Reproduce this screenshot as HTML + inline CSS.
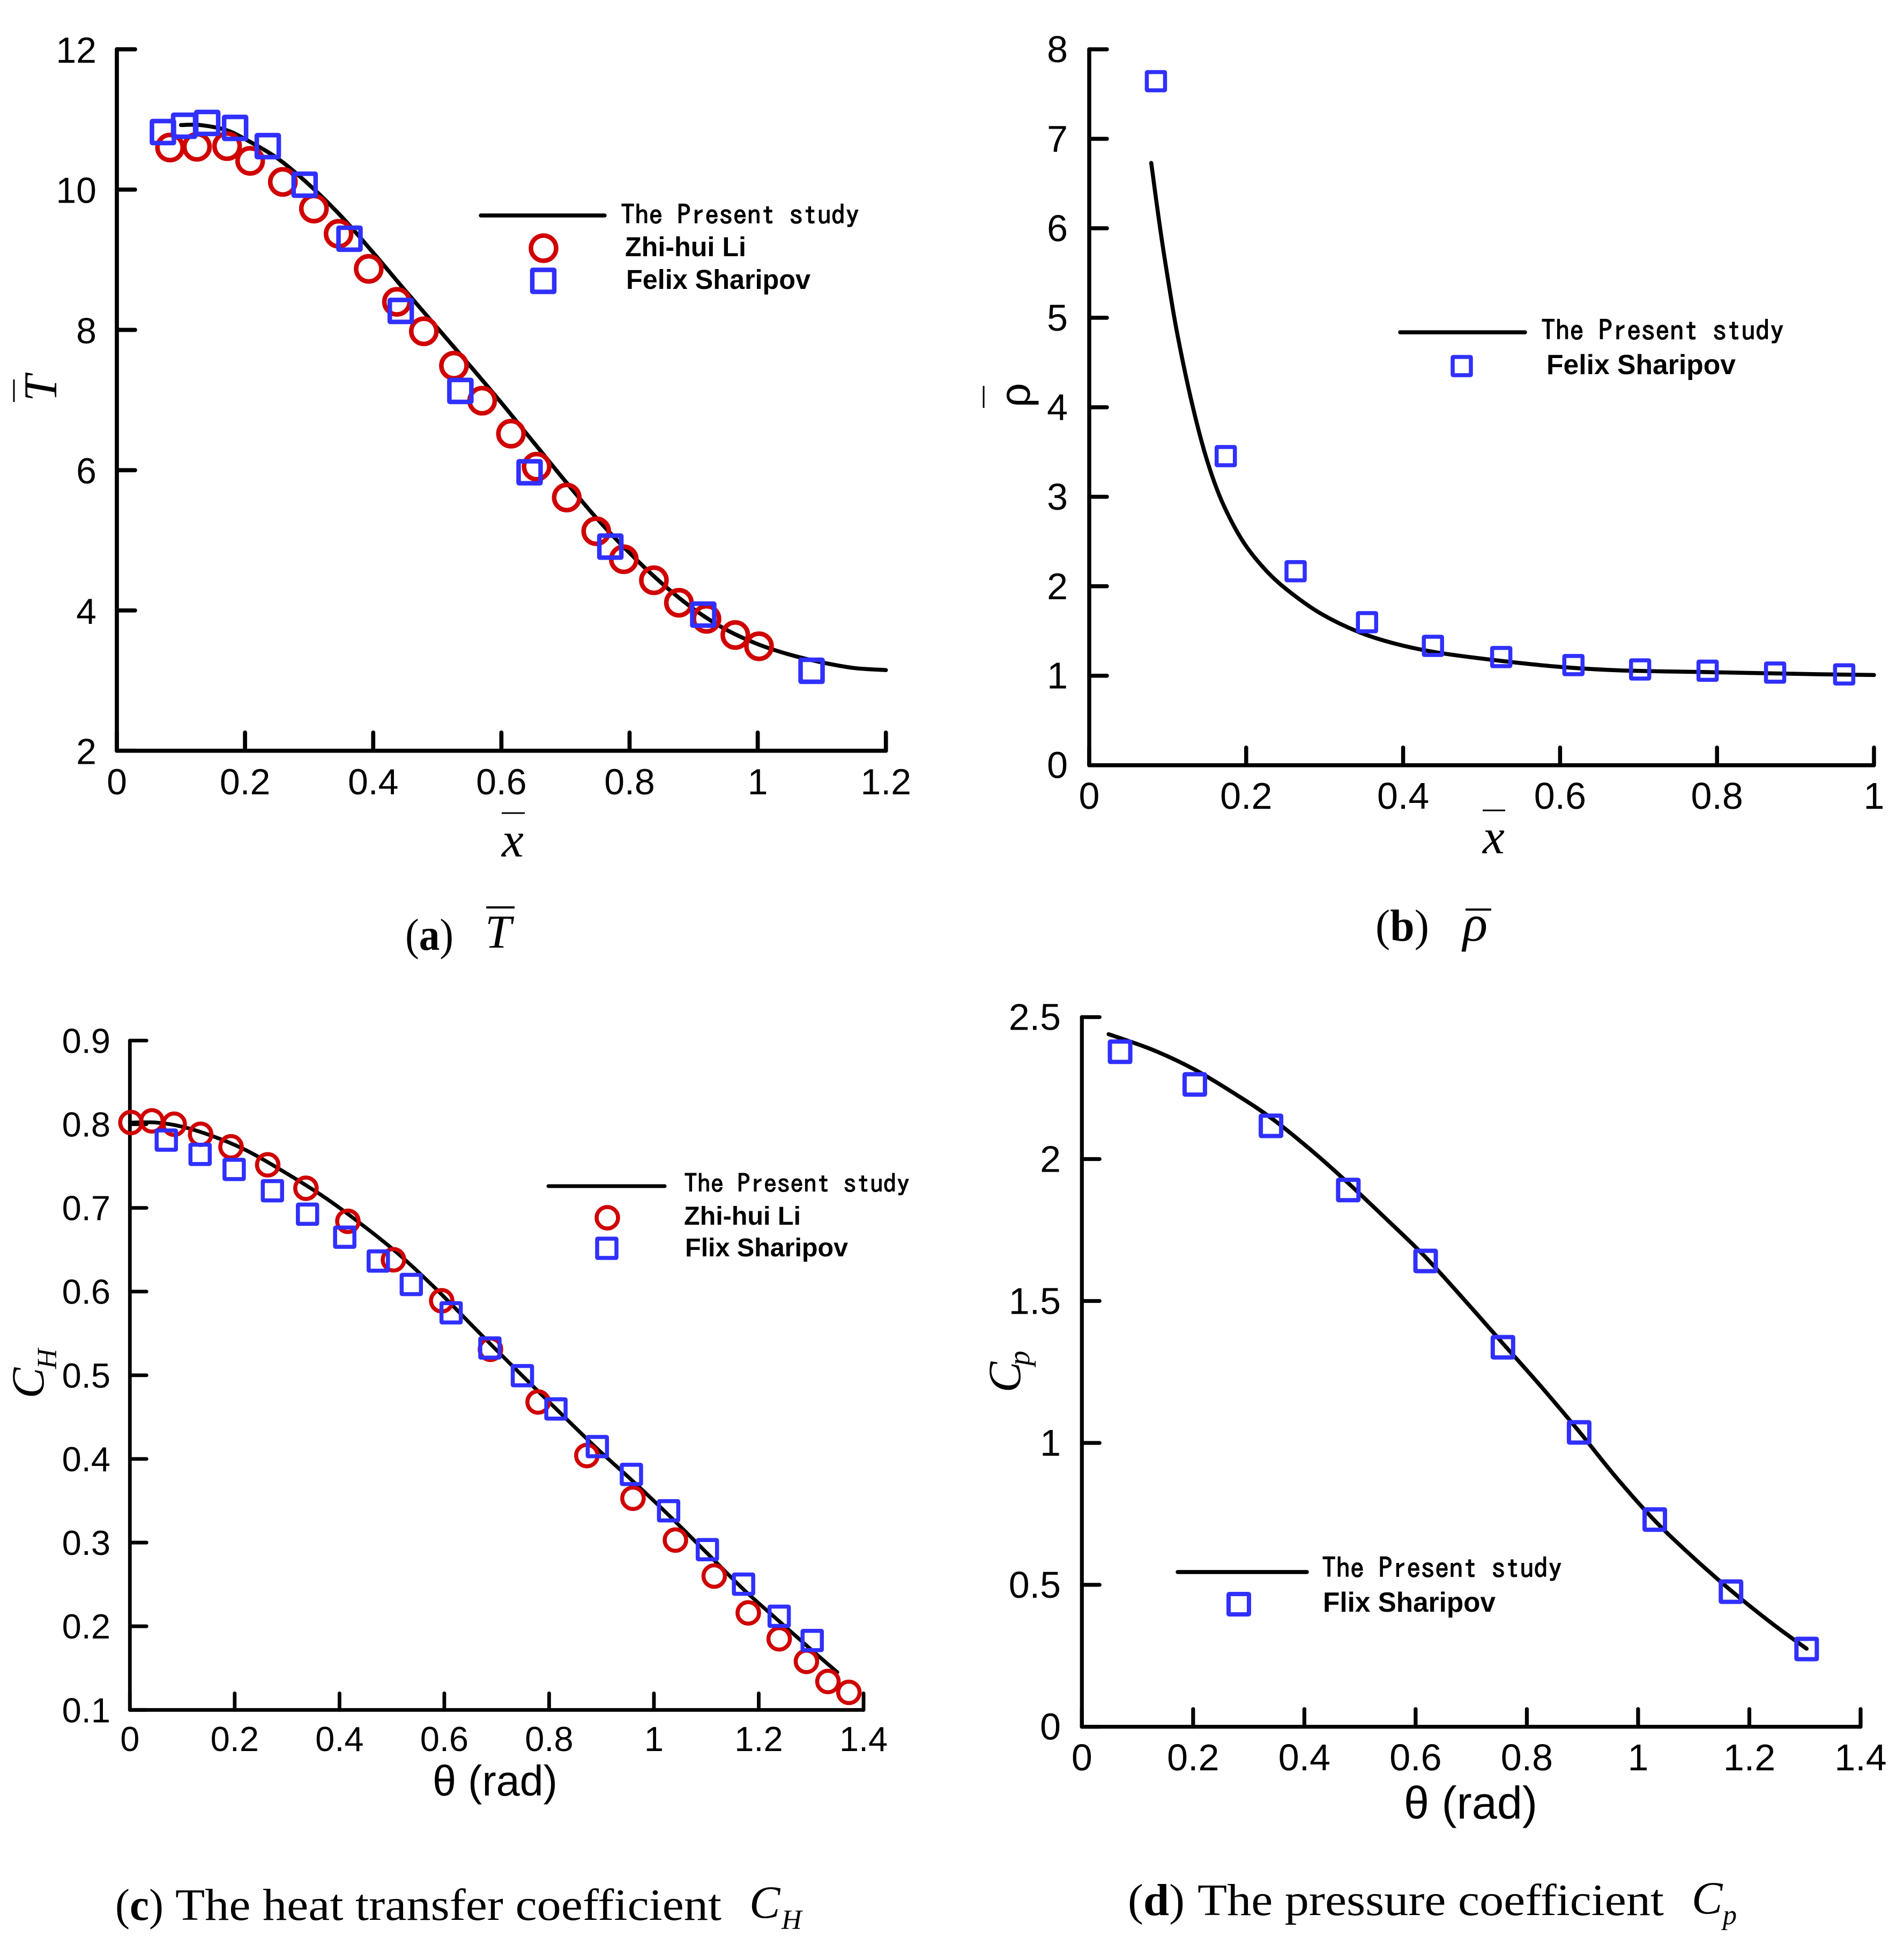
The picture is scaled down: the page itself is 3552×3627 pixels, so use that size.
<!DOCTYPE html>
<html lang="en">
<head>
<meta charset="utf-8">
<title>Flow property comparison charts</title>
<style>
html,body{margin:0;padding:0;background:#fff}
svg{display:block}
.tick{font-family:"Liberation Sans",sans-serif;fill:#000}
.mono{font-family:"IPAGothic","Liberation Mono",monospace;fill:#000;stroke:#000;stroke-width:1.2}
.bold{font-family:"Liberation Sans",sans-serif;font-weight:bold;fill:#000}
.sans{font-family:"Liberation Sans",sans-serif;fill:#000}
.ser{font-family:"Liberation Serif",serif;fill:#000}
.ital{font-family:"Liberation Serif",serif;font-style:italic;fill:#000}
</style>
</head>
<body>
<svg id="chart" xmlns="http://www.w3.org/2000/svg" width="3552" height="3627" viewBox="0 0 3552 3627">
<rect width="3552" height="3627" fill="#fff"/>

<g id="panel-a">
  <g>
    <line x1="936" y1="1517" x2="979" y2="1517" stroke="#000" stroke-width="3"/>
    <text class="ital" x="936" y="1598" font-size="92">x</text>
  </g>
  <g>
    <line x1="26" y1="708" x2="26" y2="750" stroke="#000" stroke-width="3"/>
    <text class="ital" transform="translate(105,749) rotate(-90)" font-size="88">T</text>
  </g>
  <g>
    <line x1="897" y1="402" x2="1128" y2="402" stroke="#000" stroke-width="7.5" stroke-linecap="round"/>
    <text class="mono" x="1158" y="418.5" font-size="50" textLength="445" lengthAdjust="spacingAndGlyphs">The Present study</text>
    <circle cx="1014" cy="463" r="23.5" fill="none" stroke="#d00000" stroke-width="8.5"/>
    <text class="bold" x="1166" y="478" font-size="51" textLength="226" lengthAdjust="spacingAndGlyphs">Zhi-hui Li</text>
    <rect x="993" y="503.5" width="41" height="41" rx="1" fill="none" stroke="#3030ff" stroke-width="8.5" stroke-linejoin="round"/>
    <text class="bold" x="1168" y="539" font-size="51" textLength="344" lengthAdjust="spacingAndGlyphs">Felix Sharipov</text>
  </g>
  <g>
    <text class="ser" x="756" y="1772" font-size="84" textLength="90" lengthAdjust="spacingAndGlyphs">(<tspan font-weight="bold">a</tspan>)</text>
    <line x1="907" y1="1693" x2="960" y2="1693" stroke="#000" stroke-width="4"/>
    <text class="ital" x="905" y="1768" font-size="88">T</text>
  </g>
</g>

<g id="panel-b">
  <g>
    <line x1="2766" y1="1512" x2="2808" y2="1512" stroke="#000" stroke-width="3"/>
    <text class="ital" x="2766" y="1592" font-size="92">x</text>
  </g>
  <g>
    <line x1="1835" y1="720" x2="1835" y2="761" stroke="#000" stroke-width="3"/>
    <text class="sans" transform="translate(1921,760) rotate(-90)" font-size="80">ρ</text>
  </g>
  <g>
    <line x1="2612" y1="620" x2="2845" y2="620" stroke="#000" stroke-width="7.5" stroke-linecap="round"/>
    <text class="mono" x="2875" y="635" font-size="52" textLength="453" lengthAdjust="spacingAndGlyphs">The Present study</text>
    <rect x="2710" y="666" width="34" height="34" rx="1" fill="none" stroke="#3030ff" stroke-width="7.5" stroke-linejoin="round"/>
    <text class="bold" x="2885" y="698" font-size="52" textLength="353" lengthAdjust="spacingAndGlyphs">Felix Sharipov</text>
  </g>
  <g>
    <text class="ser" x="2566" y="1755" font-size="84" textLength="100" lengthAdjust="spacingAndGlyphs">(<tspan font-weight="bold">b</tspan>)</text>
    <line x1="2734" y1="1697" x2="2782" y2="1697" stroke="#000" stroke-width="4"/>
    <text class="ital" x="2729" y="1755" font-size="96">ρ</text>
  </g>
</g>

<g id="panel-c">
  <text class="sans" x="807" y="3350" font-size="80" textLength="233" lengthAdjust="spacingAndGlyphs">θ (rad)</text>
  <g>
    <text class="ital" transform="translate(81,2609) rotate(-90)" font-size="86">C</text>
    <text class="ital" transform="translate(105,2554) rotate(-90)" font-size="52">H</text>
  </g>
  <g>
    <line x1="1023" y1="2213" x2="1240" y2="2213" stroke="#000" stroke-width="7" stroke-linecap="round"/>
    <text class="mono" x="1276" y="2225" font-size="48" textLength="421" lengthAdjust="spacingAndGlyphs">The Present study</text>
    <circle cx="1133" cy="2272" r="20" fill="none" stroke="#d00000" stroke-width="7.5"/>
    <text class="bold" x="1276" y="2285" font-size="48" textLength="218" lengthAdjust="spacingAndGlyphs">Zhi-hui Li</text>
    <rect x="1114" y="2311" width="36" height="36" rx="1" fill="none" stroke="#3030ff" stroke-width="7.5" stroke-linejoin="round"/>
    <text class="bold" x="1278" y="2344" font-size="48" textLength="304" lengthAdjust="spacingAndGlyphs">Flix Sharipov</text>
  </g>
  <g>
    <text class="ser" x="215" y="3582" font-size="84" textLength="90" lengthAdjust="spacingAndGlyphs">(<tspan font-weight="bold">c</tspan>)</text>
    <text class="ser" x="327" y="3582" font-size="84" textLength="1019" lengthAdjust="spacingAndGlyphs">The heat transfer coefficient</text>
    <text class="ital" x="1398" y="3578" font-size="86">C</text>
    <text class="ital" x="1458" y="3599" font-size="52">H</text>
  </g>
</g>

<g id="panel-d">
  <text class="sans" x="2619" y="3393" font-size="85" textLength="249" lengthAdjust="spacingAndGlyphs">θ (rad)</text>
  <g>
    <text class="ital" transform="translate(1903,2598) rotate(-90)" font-size="86">C</text>
    <text class="ital" transform="translate(1920,2548) rotate(-90)" font-size="56">p</text>
  </g>
  <g>
    <line x1="2197" y1="2933" x2="2438" y2="2933" stroke="#000" stroke-width="7.5" stroke-linecap="round"/>
    <text class="mono" x="2466" y="2944" font-size="52" textLength="448" lengthAdjust="spacingAndGlyphs">The Present study</text>
    <rect x="2300" y="2979" width="38" height="38" rx="1" fill="none" stroke="#3030ff" stroke-width="8" stroke-linejoin="round" transform="translate(-8,-5)"/>
    <text class="bold" x="2468" y="3007" font-size="52" textLength="322" lengthAdjust="spacingAndGlyphs">Flix Sharipov</text>
  </g>
  <g>
    <text class="ser" x="2104" y="3573" font-size="84" textLength="106" lengthAdjust="spacingAndGlyphs">(<tspan font-weight="bold">d</tspan>)</text>
    <text class="ser" x="2234" y="3573" font-size="84" textLength="870" lengthAdjust="spacingAndGlyphs">The pressure coefficient</text>
    <text class="ital" x="3156" y="3570" font-size="86">C</text>
    <text class="ital" x="3214" y="3590" font-size="52">p</text>
  </g>
</g>
</svg>

<script>
// Panel (a): T-bar
const aTickX = [0, 0.2, 0.4, 0.6, 0.8, 1, 1.2];
const aTickXLabels = ["0", "0.2", "0.4", "0.6", "0.8", "1", "1.2"];
const aTickY = [2, 4, 6, 8, 10, 12];
const aTickYLabels = ["2", "4", "6", "8", "10", "12"];
const aLineX = [0.1, 0.13, 0.17, 0.2, 0.25, 0.3, 0.35, 0.4, 0.45, 0.5, 0.55, 0.6, 0.65, 0.7, 0.75, 0.8, 0.85, 0.9, 0.95, 1.0, 1.05, 1.1, 1.15, 1.2];
const aLineY = [10.92, 10.92, 10.85, 10.72, 10.45, 10.07, 9.62, 9.1, 8.56, 8.03, 7.5, 6.96, 6.4, 5.84, 5.3, 4.82, 4.39, 4.02, 3.73, 3.52, 3.37, 3.26, 3.18, 3.15];
const aCircleX = [0.083, 0.125, 0.172, 0.208, 0.259, 0.3075, 0.346, 0.393, 0.437, 0.479, 0.526, 0.57, 0.615, 0.655, 0.702, 0.748, 0.791, 0.838, 0.877, 0.92, 0.965, 1.002];
const aCircleY = [10.6, 10.61, 10.62, 10.41, 10.11, 9.73, 9.37, 8.87, 8.4, 7.98, 7.49, 6.99, 6.52, 6.05, 5.61, 5.13, 4.73, 4.43, 4.11, 3.88, 3.65, 3.49];
const aSquareX = [0.0719, 0.105, 0.141, 0.1845, 0.2355, 0.293, 0.363, 0.443, 0.536, 0.644, 0.77, 0.915, 1.084];
const aSquareY = [10.82, 10.91, 10.95, 10.88, 10.62, 10.07, 9.3, 8.27, 7.13, 5.97, 4.91, 3.94, 3.14];

// Panel (b): rho-bar
const bTickX = [0, 0.2, 0.4, 0.6, 0.8, 1];
const bTickXLabels = ["0", "0.2", "0.4", "0.6", "0.8", "1"];
const bTickY = [0, 1, 2, 3, 4, 5, 6, 7, 8];
const bTickYLabels = ["0", "1", "2", "3", "4", "5", "6", "7", "8"];
const bLineX = [0.079, 0.09, 0.1, 0.112, 0.13, 0.149, 0.169, 0.196, 0.227, 0.258, 0.296, 0.343, 0.389, 0.443, 0.521, 0.598, 0.676, 0.792, 0.908, 1];
const bLineY = [6.73, 6.02, 5.45, 4.83, 4.08, 3.44, 2.95, 2.5, 2.16, 1.92, 1.69, 1.49, 1.36, 1.26, 1.17, 1.1, 1.06, 1.04, 1.02, 1.008];
const bSquareX = [0.085, 0.174, 0.263, 0.354, 0.438, 0.525, 0.617, 0.702, 0.788, 0.874, 0.962];
const bSquareY = [7.644, 3.454, 2.168, 1.598, 1.334, 1.209, 1.119, 1.07, 1.056, 1.035, 1.015];

// Panel (c): heat transfer coefficient
const cTickX = [0, 0.2, 0.4, 0.6, 0.8, 1, 1.2, 1.4];
const cTickXLabels = ["0", "0.2", "0.4", "0.6", "0.8", "1", "1.2", "1.4"];
const cTickY = [0.1, 0.2, 0.3, 0.4, 0.5, 0.6, 0.7, 0.8, 0.9];
const cTickYLabels = ["0.1", "0.2", "0.3", "0.4", "0.5", "0.6", "0.7", "0.8", "0.9"];
const cLineX = [0, 0.05, 0.1, 0.157, 0.215, 0.273, 0.366, 0.447, 0.516, 0.586, 0.679, 0.748, 0.813, 0.892, 0.957, 1.028, 1.102, 1.171, 1.239, 1.302, 1.35];
const cLineY = [0.802, 0.802, 0.797, 0.786, 0.771, 0.751, 0.715, 0.678, 0.643, 0.602, 0.543, 0.5, 0.46, 0.412, 0.375, 0.333, 0.287, 0.244, 0.206, 0.171, 0.145];
const cCircleX = [0.002, 0.042, 0.0845, 0.135, 0.193, 0.263, 0.336, 0.416, 0.503, 0.595, 0.688, 0.779, 0.872, 0.96, 1.041, 1.115, 1.18, 1.239, 1.291, 1.332, 1.372];
const cCircleY = [0.802, 0.804, 0.8, 0.788, 0.773, 0.7515, 0.7235, 0.684, 0.638, 0.589, 0.531, 0.468, 0.404, 0.353, 0.303, 0.26, 0.216, 0.185, 0.158, 0.134, 0.121];
const cSquareX = [0.0695, 0.134, 0.199, 0.272, 0.339, 0.41, 0.474, 0.537, 0.613, 0.687, 0.749, 0.813, 0.892, 0.957, 1.028, 1.102, 1.171, 1.239, 1.302];
const cSquareY = [0.781, 0.764, 0.746, 0.7205, 0.6925, 0.665, 0.6365, 0.6085, 0.5746, 0.5326, 0.4995, 0.4597, 0.4147, 0.3815, 0.338, 0.2916, 0.2503, 0.212, 0.183];

// Panel (d): pressure coefficient
const dTickX = [0, 0.2, 0.4, 0.6, 0.8, 1, 1.2, 1.4];
const dTickXLabels = ["0", "0.2", "0.4", "0.6", "0.8", "1", "1.2", "1.4"];
const dTickY = [0, 0.5, 1, 1.5, 2, 2.5];
const dTickYLabels = ["0", "0.5", "1", "1.5", "2", "2.5"];
const dLineX = [0.048, 0.127, 0.203, 0.279, 0.34, 0.41, 0.479, 0.552, 0.618, 0.694, 0.757, 0.825, 0.894, 0.96, 1.03, 1.1, 1.167, 1.24, 1.303];
const dLineY = [2.44, 2.385, 2.315, 2.225, 2.145, 2.035, 1.915, 1.78, 1.654, 1.49, 1.35, 1.2, 1.04, 0.88, 0.726, 0.595, 0.48, 0.365, 0.275];
const dSquareX = [0.0687, 0.203, 0.34, 0.479, 0.618, 0.757, 0.894, 1.03, 1.167, 1.303];
const dSquareY = [2.378, 2.263, 2.117, 1.891, 1.641, 1.337, 1.037, 0.73, 0.476, 0.274];

const NS = "http://www.w3.org/2000/svg";
function make(parent, tag, attrs) {
  const node = document.createElementNS(NS, tag);
  for (const k in attrs) node.setAttribute(k, attrs[k]);
  parent.appendChild(node);
  return node;
}
function axisScale(d0, d1, r0, r1) {
  return function (v) { return r0 + (v - d0) / (d1 - d0) * (r1 - r0); };
}
function smoothPath(xs, ys, sx, sy) {
  const p = xs.map(function (x, i) { return [sx(x), sy(ys[i])]; });
  let d = "M" + p[0][0].toFixed(1) + " " + p[0][1].toFixed(1);
  for (let i = 0; i < p.length - 1; i++) {
    const a = p[Math.max(i - 1, 0)], b = p[i], c = p[i + 1], e = p[Math.min(i + 2, p.length - 1)];
    const c1x = b[0] + (c[0] - a[0]) / 6, c1y = b[1] + (c[1] - a[1]) / 6;
    const c2x = c[0] - (e[0] - b[0]) / 6, c2y = c[1] - (e[1] - b[1]) / 6;
    d += "C" + c1x.toFixed(1) + " " + c1y.toFixed(1) + " " + c2x.toFixed(1) + " " + c2y.toFixed(1) + " " + c[0].toFixed(1) + " " + c[1].toFixed(1);
  }
  return d;
}
function drawPanel(o) {
  const root = document.getElementById("panel-" + o.id);
  const sx = axisScale(o.xDomain[0], o.xDomain[1], o.left, o.right);
  const sy = axisScale(o.yDomain[0], o.yDomain[1], o.bottom, o.top);
  const black = { stroke: "#000", fill: "none", "stroke-width": o.axisWidth, "stroke-linecap": "round", "stroke-linejoin": "round" };

  const xAxis = make(root, "line", Object.assign({ x1: o.left, y1: o.bottom, x2: o.right, y2: o.bottom }, black));
  
  
  const yAxis = make(root, "line", Object.assign({ x1: o.left, y1: o.bottom, x2: o.left, y2: o.top }, black));
  
  

  o.xTicks.forEach(function (v, i) {
    const t = make(root, "line", Object.assign({ x1: sx(v), y1: o.bottom, x2: sx(v), y2: o.bottom - o.tickLenX }, black));
    
    
    const l = make(root, "text", { class: "tick", x: sx(v), y: o.xLabelBaseline, "font-size": o.fontSize, "text-anchor": "middle" });
    l.textContent = o.xLabels[i];
    
    
  });
  o.yTicks.forEach(function (v, i) {
    const t = make(root, "line", Object.assign({ x1: o.left, y1: sy(v), x2: o.left + o.tickLenY, y2: sy(v) }, black));
    
    
    const l = make(root, "text", { class: "tick", x: o.yLabelRight, y: sy(v) + o.yLabelShift, "font-size": o.fontSize, "text-anchor": "end" });
    l.textContent = o.yLabels[i];
    
    
  });

  const curve = make(root, "path", { d: smoothPath(o.lineX, o.lineY, sx, sy), fill: "none", stroke: "#000", "stroke-width": o.lineWidth, "stroke-linejoin": "round", "stroke-linecap": "round" });
  
  

  if (o.circleX) {
    o.circleX.forEach(function (x, i) {
      const c = make(root, "circle", { cx: sx(x), cy: sy(o.circleY[i]), r: o.circleR, fill: "none", stroke: "#d00000", "stroke-width": o.markerStroke });
      
      
    });
  }
  o.squareX.forEach(function (x, i) {
    const s = o.squareSide;
    const r = make(root, "rect", { x: sx(x) - s / 2, y: sy(o.squareY[i]) - s / 2, width: s, height: s, rx: 1, fill: "none", stroke: "#3030ff", "stroke-width": o.markerStroke, "stroke-linejoin": "round" });
    
    
  });
}

drawPanel({ id: "a", left: 218, right: 1652.7, top: 92, bottom: 1400.7, xDomain: [0, 1.2], yDomain: [2, 12],
  axisWidth: 7.7, lineWidth: 7.5, tickLenX: 34, tickLenY: 34, fontSize: 68, xLabelBaseline: 1482, yLabelRight: 180, yLabelShift: 25,
  xTicks: aTickX, xLabels: aTickXLabels, yTicks: aTickY, yLabels: aTickYLabels,
  lineX: aLineX, lineY: aLineY, circleX: aCircleX, circleY: aCircleY, circleR: 23.5, squareX: aSquareX, squareY: aSquareY, squareSide: 41, markerStroke: 8.5 });
drawPanel({ id: "b", left: 2032, right: 3496, top: 92, bottom: 1427.7, xDomain: [0, 1], yDomain: [0, 8],
  axisWidth: 7.5, lineWidth: 7.5, tickLenX: 33, tickLenY: 33, fontSize: 70, xLabelBaseline: 1509, yLabelRight: 1992, yLabelShift: 24,
  xTicks: bTickX, xLabels: bTickXLabels, yTicks: bTickY, yLabels: bTickYLabels,
  lineX: bLineX, lineY: bLineY, squareX: bSquareX, squareY: bSquareY, squareSide: 34, markerStroke: 7.5 });
drawPanel({ id: "c", left: 242.3, right: 1611, top: 1941.4, bottom: 3190.3, xDomain: [0, 1.4], yDomain: [0.1, 0.9],
  axisWidth: 6.8, lineWidth: 7, tickLenX: 31, tickLenY: 31, fontSize: 65, xLabelBaseline: 3267, yLabelRight: 206, yLabelShift: 23,
  xTicks: cTickX, xLabels: cTickXLabels, yTicks: cTickY, yLabels: cTickYLabels,
  lineX: cLineX, lineY: cLineY, circleX: cCircleX, circleY: cCircleY, circleR: 20, squareX: cSquareX, squareY: cSquareY, squareSide: 36, markerStroke: 7.5 });
drawPanel({ id: "d", left: 2018.3, right: 3471, top: 1897.7, bottom: 3221.7, xDomain: [0, 1.4], yDomain: [0, 2.5],
  axisWidth: 7.2, lineWidth: 7.5, tickLenX: 33, tickLenY: 33, fontSize: 70, xLabelBaseline: 3303, yLabelRight: 1979, yLabelShift: 24,
  xTicks: dTickX, xLabels: dTickXLabels, yTicks: dTickY, yLabels: dTickYLabels,
  lineX: dLineX, lineY: dLineY, squareX: dSquareX, squareY: dSquareY, squareSide: 38, markerStroke: 8 });
</script>
</body>
</html>
